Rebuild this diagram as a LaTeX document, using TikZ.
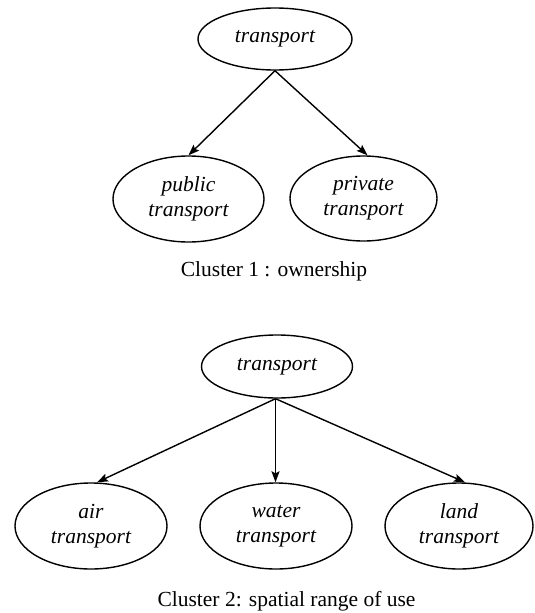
\documentclass[tikz,border=0pt]{standalone}
\usepackage{fontspec}
\setmainfont{Liberation Serif}
\usetikzlibrary{shapes.geometric,arrows.meta}
\begin{document}
\begin{tikzpicture}[x=1pt,y=-1pt,
  ell/.style={ellipse,draw,line width=1.4pt,inner sep=0pt,align=center,
    font=\fontsize{21.5}{25}\selectfont\itshape},
  conn/.style={line width=1.4pt,-{Stealth[length=11pt,width=8pt,inset=2pt]}},
  captext/.style={font=\fontsize{21.5}{25}\selectfont}]
\useasboundingbox (0,0) rectangle (535,613);
% Cluster 1
\node[ell,minimum width=154pt,minimum height=62pt] (t1) at (275,39) {transport};
\node[ell,minimum width=151pt,minimum height=86pt] (pub) at (188.5,199) {public\\transport};
\node[ell,minimum width=147pt,minimum height=85pt] (pri) at (363.5,198.5) {private\\transport};
\node[captext] (c1) at (274,271) {Cluster 1 : ownership};
\draw[conn] (t1.south) -- (pub.north);
\draw[conn] (t1.south) -- ([xshift=4pt]pri.north);
% Cluster 2
\node[ell,minimum width=151pt,minimum height=63pt] (t2) at (277,366.5) {transport};
\node[ell,minimum width=152pt,minimum height=86pt] (air) at (91,526) {air\\transport};
\node[ell,minimum width=152pt,minimum height=86pt] (wat) at (276,526) {water\\transport};
\node[ell,minimum width=148pt,minimum height=86pt] (lan) at (459,526) {land\\transport};
\node[captext] (c2) at (286.5,601) {Cluster 2: spatial range of use};
\coordinate (s2) at ([xshift=-1.5pt]t2.south);
\draw[conn] (s2) -- ([xshift=6pt]air.north);
\draw[conn] (s2) -- (s2 |- wat.north);
\draw[conn] (s2) -- ([xshift=6pt]lan.north);
\end{tikzpicture}
\end{document}
